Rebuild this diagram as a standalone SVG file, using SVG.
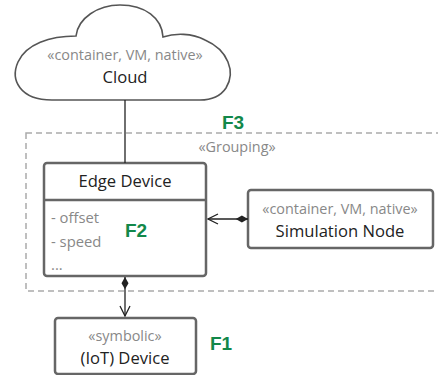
<svg xmlns="http://www.w3.org/2000/svg" width="438" height="375" viewBox="0 0 438 375">
<defs>
<style>
.box{fill:#fff;stroke:#666;stroke-width:2.5}
.cloud{fill:#fff;stroke:#555;stroke-width:1.6}
.grp{fill:none;stroke:#aaa;stroke-width:1.5;stroke-dasharray:6 4}
.name{font-family:"Open Sans","Liberation Sans",sans-serif;font-size:16.6px;fill:#222;text-anchor:middle}
.st{font-family:"Open Sans","Liberation Sans",sans-serif;font-size:14.4px;fill:#888;text-anchor:middle}
.attr{font-family:"Open Sans","Liberation Sans",sans-serif;font-size:14.8px;fill:#888}
.f{font-family:"Liberation Sans",Arial,sans-serif;font-size:19px;font-weight:bold;fill:#12884a}
.ln{stroke:#222;stroke-width:1.3;fill:none}
</style>
<marker id="open" viewBox="0 0 12 12" refX="11" refY="6" markerWidth="12" markerHeight="12" markerUnits="userSpaceOnUse" orient="auto">
<path d="M1,1 L11,6 L1,11" fill="none" stroke="#222" stroke-width="1.3"/>
</marker>
<marker id="dia" viewBox="0 0 16 10" refX="1" refY="5" markerWidth="14" markerHeight="9" markerUnits="userSpaceOnUse" orient="auto">
<path d="M1,5 L8,1 L15,5 L8,9 Z" fill="#222"/>
</marker>
</defs>
<g id="grouping">
<rect class="grp" x="26" y="133" width="420" height="158"/>
<text class="st" x="237" y="152">«Grouping»</text>
<text class="f" x="222" y="129">F3</text>
</g>
<g id="cloud">
<path class="cloud" d="M52,100 C20,100 10,80 18,62 C26,44 50,36 76,36 C78,18 98,5 120,5 C145,5 162,18 163,37 C175,33 192,33 205,40 C228,50 236,72 226,88 C220,97 212,100 200,100 Z"/>
<text class="st" x="125" y="60">«container, VM, native»</text>
<text class="name" x="125" y="83">Cloud</text>
</g>
<g id="edge-device">
<rect class="box" x="44" y="163" width="162" height="113" rx="3"/>
<line class="box" x1="44" y1="200" x2="206" y2="200"/>
<text class="name" x="125" y="187">Edge Device</text>
<text class="attr" x="51" y="223">- offset</text>
<text class="attr" x="51" y="247">- speed</text>
<text class="attr" x="51" y="270">...</text>
<text class="f" x="125" y="237">F2</text>
</g>
<g id="simulation-node">
<rect class="box" x="248" y="190" width="185" height="58" rx="3"/>
<text class="st" x="340" y="214">«container, VM, native»</text>
<text class="name" x="340" y="237">Simulation Node</text>
</g>
<g id="iot-device">
<rect class="box" x="55" y="318" width="141" height="56" rx="3"/>
<text class="st" x="125" y="341">«symbolic»</text>
<text class="name" x="125" y="364">(IoT) Device</text>
<text class="f" x="210" y="350">F1</text>
</g>
<g id="connectors">
<line class="ln" x1="125" y1="100" x2="125" y2="163"/>
<line class="ln" x1="248" y1="219" x2="208" y2="219" marker-start="url(#dia)" marker-end="url(#open)"/>
<line class="ln" x1="125" y1="277" x2="125" y2="316" marker-start="url(#dia)" marker-end="url(#open)"/>
</g>
</svg>
